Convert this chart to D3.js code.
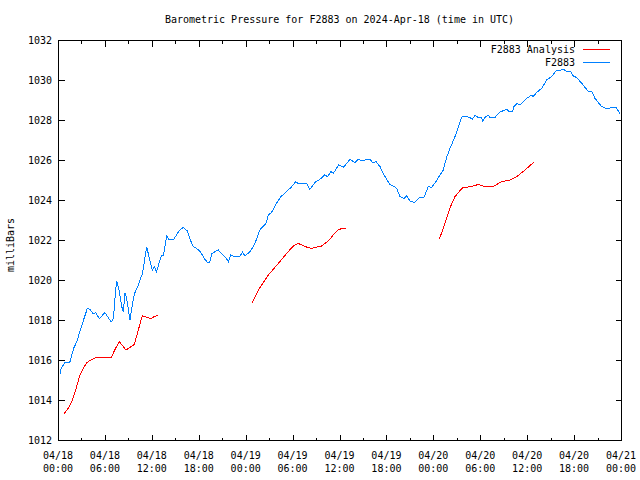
<!DOCTYPE html>
<html>
<head>
<meta charset="utf-8">
<script src="https://cdn.jsdelivr.net/npm/d3@7"></script>
<style>
  html, body { margin: 0; padding: 0; background: #fff; }
  svg { display: block; }
  text { font-family: "DejaVu Sans Mono", monospace; font-size: 10px; fill: #000; }
</style>
</head>
<body>
<svg id="chart" width="640" height="480"></svg>
<script>
// ---- Data (hours since 2024-04-18 00:00 UTC, pressure in mb) ----
const stationHours = [0.26,0.4,0.9,1.5,2.0,2.4,2.8,3.1,3.75,4.1,4.5,4.8,5.3,6.0,6.8,7.1,7.3,7.5,7.8,8.15,8.35,8.57,8.78,9.2,9.5,9.76,10.2,10.8,11.35,11.7,12.06,12.3,12.6,13.2,13.5,13.9,14.2,14.8,15.5,16.0,16.5,16.9,17.3,17.7,18.2,18.7,19.1,19.4,19.7,20.1,20.5,20.9,21.5,21.8,22.1,22.4,23.3,23.6,23.9,24.55,24.9,25.4,25.8,26.6,26.9,27.3,28.0,28.5,29.0,29.9,30.4,30.7,31.8,32.2,32.95,33.4,34.1,34.5,34.9,35.2,35.9,36.5,37.34,37.98,38.4,38.96,39.39,39.99,40.24,40.66,41.18,41.6,42.03,42.46,42.88,43.31,43.73,44.25,44.59,45.01,45.56,46.29,46.8,47.35,47.79,48.34,48.85,49.27,49.7,50.13,50.77,51.32,51.6,51.8,52.66,52.98,53.32,53.75,54.18,54.31,54.6,55.03,55.24,55.88,56.52,57.38,57.71,58.15,58.31,58.73,59.08,59.94,60.58,60.78,61.21,61.85,62.49,63.13,63.77,64.28,64.62,65.05,65.56,65.82,66.33,67.17,67.81,68.25,68.67,69.53,70.24,70.8,71.36,71.87];
const stationValues = [1015.30,1015.58,1015.87,1015.87,1016.58,1016.92,1017.42,1017.80,1018.58,1018.53,1018.30,1018.37,1018.07,1018.37,1017.90,1018.08,1019.17,1019.97,1019.50,1018.67,1018.42,1019.37,1019.08,1018.00,1018.75,1019.30,1019.67,1020.33,1021.67,1021.03,1020.50,1020.67,1020.42,1021.20,1021.25,1022.20,1022.03,1022.03,1022.47,1022.63,1022.47,1022.03,1021.67,1021.58,1021.42,1021.08,1020.88,1020.88,1021.33,1021.42,1021.50,1021.33,1021.08,1020.92,1021.25,1021.20,1021.20,1021.40,1021.20,1021.42,1021.63,1022.03,1022.50,1022.83,1023.25,1023.37,1023.87,1024.17,1024.33,1024.67,1024.92,1024.83,1024.83,1024.53,1024.92,1025.00,1025.25,1025.17,1025.42,1025.33,1025.75,1025.63,1026.03,1025.87,1026.03,1025.95,1026.03,1026.00,1025.87,1025.92,1025.67,1025.33,1025.03,1024.78,1024.70,1024.58,1024.17,1024.08,1024.20,1023.95,1023.87,1024.13,1024.13,1024.67,1024.63,1024.92,1025.25,1025.50,1026.13,1026.58,1027.17,1027.80,1028.13,1028.20,1028.13,1028.03,1028.23,1028.13,1028.13,1027.95,1028.13,1028.23,1028.13,1028.13,1028.40,1028.53,1028.42,1028.42,1028.67,1028.83,1028.75,1029.08,1029.25,1029.17,1029.38,1029.58,1030.00,1030.17,1030.50,1030.50,1030.55,1030.42,1030.45,1030.22,1030.12,1029.75,1029.42,1029.45,1029.08,1028.67,1028.55,1028.62,1028.62,1028.33];

// Analysis series; null separates the three analysis runs
const analysisHours = [0.81,1.32,1.83,2.26,2.81,3.24,3.67,4.22,4.73,5.37,6.23,6.78,7.29,7.84,8.7,9.21,9.76,10.27,10.78,11.34,11.89,12.3,12.83, null,
  24.85,25.62,26.9,28.18,29.24,30.1,30.73,31.59,32.44,33.72,34.57,35.2,35.76,36.28,36.79, null,
  48.76,49.49,50.2,50.77,51.4,51.8,52.9,53.75,54.6,55.67,56.74,57.8,58.66,59.72,60.87];
const analysisValues = [1013.33,1013.60,1013.97,1014.50,1015.25,1015.58,1015.87,1016.00,1016.10,1016.15,1016.13,1016.10,1016.53,1016.92,1016.50,1016.63,1016.78,1017.50,1018.22,1018.13,1018.08,1018.17,1018.23, null,
  1018.87,1019.50,1020.25,1020.83,1021.33,1021.70,1021.83,1021.67,1021.58,1021.70,1021.95,1022.25,1022.50,1022.57,1022.60, null,
  1022.03,1022.83,1023.67,1024.17,1024.47,1024.62,1024.67,1024.78,1024.67,1024.67,1024.92,1025.00,1025.17,1025.50,1025.90];

const xTickHours = [0,6,12,18,24,30,36,42,48,54,60,66,72];
const xTickDates = ["04/18","04/18","04/18","04/18","04/19","04/19","04/19","04/19","04/20","04/20","04/20","04/20","04/21"];
const xTickTimes = ["00:00","06:00","12:00","18:00","00:00","06:00","12:00","18:00","00:00","06:00","12:00","18:00","00:00"];
const yTicks = [1012,1014,1016,1018,1020,1022,1024,1026,1028,1030,1032];
const seriesNames = ["F2883 Analysis","F2883"];
const seriesColors = ["#ff0000","#0080ff"];
const titleText = "Barometric Pressure for F2883 on 2024-Apr-18 (time in UTC)";
const yLabel = "milliBars";

// ---- Layout ----
const L = 58, R = 621, T = 40, B = 440;
const svg = d3.select("#chart");
const x = d3.scaleLinear().domain([0, 72]).range([L, R]);
const y = d3.scaleLinear().domain([1012, 1032]).range([B, T]);

// Title
svg.append("text").attr("x", (L + R) / 2).attr("y", 23).attr("text-anchor", "middle").text(titleText);

// Y label
svg.append("text").attr("transform", "translate(14," + 245 + ") rotate(-90)")
  .attr("text-anchor", "middle").text(yLabel);

// Axes (ticks inward, mirrored)
const g = svg.append("g").attr("shape-rendering", "crispEdges");
const minorHours = d3.range(3, 72, 6);

function addX(yPos, dir) {
  const ax = (dir > 0 ? d3.axisTop(x) : d3.axisBottom(x));
  ax.tickValues(xTickHours).tickSize(6).tickFormat("");
  const ga = g.append("g").attr("transform", "translate(0," + yPos + ")").call(ax);
  const ax2 = (dir > 0 ? d3.axisTop(x) : d3.axisBottom(x)).tickValues(minorHours).tickSize(3).tickFormat("");
  const gb = g.append("g").attr("transform", "translate(0," + yPos + ")").call(ax2);
  [ga, gb].forEach(s => { s.select(".domain").remove(); s.selectAll("line").attr("stroke", "#000"); });
}
addX(B + 0.5, 1);
addX(T + 0.5, -1);

function addY(xPos, left) {
  const ax = (left ? d3.axisRight(y) : d3.axisLeft(y)).tickValues(yTicks).tickSize(6).tickFormat("");
  const ga = g.append("g").attr("transform", "translate(" + xPos + ",0)").call(ax);
  ga.select(".domain").remove();
  ga.selectAll("line").attr("stroke", "#000");
}
addY(L + 0.5, true);
addY(R + 0.5, false);

// Border
g.append("rect").attr("x", L + 0.5).attr("y", T + 0.5).attr("width", R - L).attr("height", B - T)
  .attr("fill", "none").attr("stroke", "#000");

// Tick labels
svg.append("g").selectAll("text").data(yTicks).join("text")
  .attr("x", L - 6).attr("y", d => y(d) + 4).attr("text-anchor", "end").text(d => d);

const xl = svg.append("g").selectAll("g").data(xTickHours).join("g");
xl.append("text").attr("x", d => x(d)).attr("y", 459).attr("text-anchor", "middle").text((d, i) => xTickDates[i]);
xl.append("text").attr("x", d => x(d)).attr("y", 472).attr("text-anchor", "middle").text((d, i) => xTickTimes[i]);

// Lines
const line = d3.line().defined(d => d[0] !== null && d[1] !== null).x(d => x(d[0])).y(d => y(d[1]));
const analysis = analysisHours.map((h, i) => [h, analysisValues[i]]);
const station = stationHours.map((h, i) => [h, stationValues[i]]);
svg.append("path").datum(analysis).attr("d", line).attr("fill", "none").attr("stroke", seriesColors[0])
  .attr("stroke-width", 1).attr("shape-rendering", "crispEdges");
svg.append("path").datum(station).attr("d", line).attr("fill", "none").attr("stroke", seriesColors[1])
  .attr("stroke-width", 1).attr("shape-rendering", "crispEdges");

// Legend
const leg = svg.append("g").selectAll("g").data(seriesNames).join("g")
  .attr("transform", (d, i) => "translate(0," + (49 + i * 13) + ")");
leg.append("text").attr("x", 575).attr("y", 4).attr("text-anchor", "end").text(d => d);
leg.append("line").attr("x1", 583).attr("x2", 610).attr("y1", 0.5).attr("y2", 0.5)
  .attr("stroke", (d, i) => seriesColors[i]).attr("shape-rendering", "crispEdges");
</script>
</body>
</html>
